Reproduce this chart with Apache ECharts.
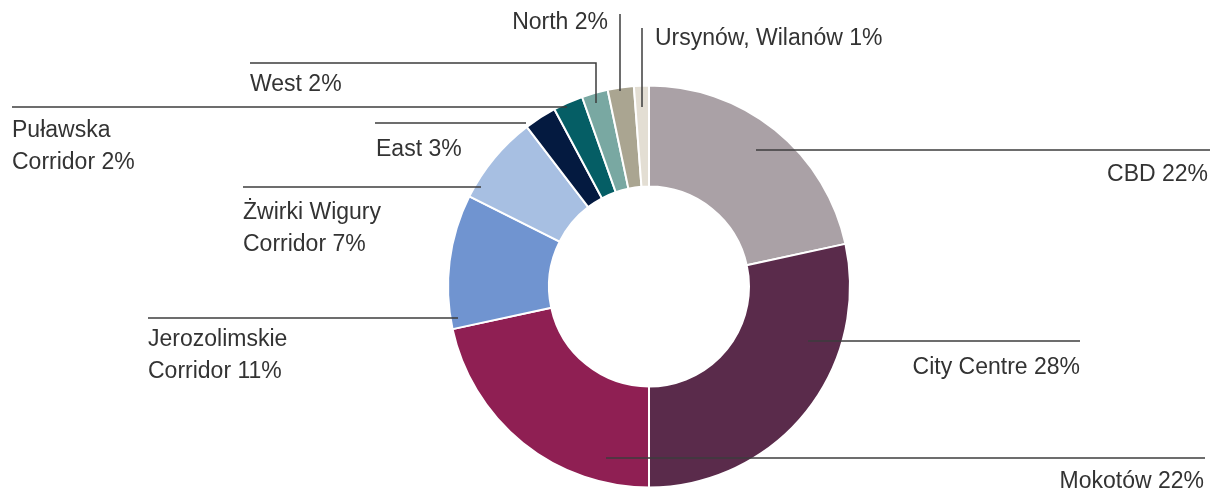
<!DOCTYPE html>
<html>
<head>
<meta charset="utf-8">
<script src="https://cdn.jsdelivr.net/npm/echarts@6/dist/echarts.min.js"></script>
<style>
html,body{margin:0;padding:0;background:#fff;}
#chart{width:1211px;height:489px;}
</style>
</head>
<body>
<div id="chart"></div>
<script>
// ---- data ----
const categories = ['CBD', 'City Centre', 'Mokotów', 'Jerozolimskie Corridor', 'Żwirki Wigury Corridor',
  'East', 'Puławska Corridor', 'West', 'North', 'Ursynów, Wilanów'];
const shares = [21.6, 28.4, 21.6, 10.8, 7.2, 2.6, 2.4, 2.1, 2.1, 1.2];
const labelPercents = [22, 28, 22, 11, 7, 3, 2, 2, 2, 1];

// ---- styles ----
const colors = ['#aaa1a6', '#5a2b4b', '#8f1f53', '#7094d0', '#a7bfe2',
  '#041a40', '#055e65', '#79a8a2', '#aaa591', '#e3ded3'];

// label annotation layout (pixels): leader line points and text anchor
const labelLayouts = [
  { pts: [[756,150],[980,150],[1210,150]], x: 1208, y: 159, align: 'right' },
  { pts: [[808,341],[950,341],[1080,341]], x: 1080, y: 352, align: 'right' },
  { pts: [[606,458],[900,458],[1205,458]], x: 1204, y: 466, align: 'right' },
  { pts: [[458,318],[300,318],[148,318]], x: 148, y: 324, align: 'left' },
  { pts: [[481,187],[360,187],[243,187]], x: 243, y: 197, align: 'left' },
  { pts: [[526,123],[450,123],[375,123]], x: 376, y: 134, align: 'left' },
  { pts: [[567,107],[300,107],[12,107]], x: 12, y: 115, align: 'left' },
  { pts: [[596,103],[596,63],[250,63]], x: 250, y: 69, align: 'left' },
  { pts: [[620,91],[620,50],[620,14]], x: 608, y: 7, align: 'right' },
  { pts: [[642,107],[642,60],[642,28]], x: 655, y: 23, align: 'left' }
];

const chart = echarts.init(document.getElementById('chart'), null, { renderer: 'canvas' });

const seriesData = categories.map((name, i) => ({
  name: name,
  value: shares[i],
  itemStyle: { color: colors[i] }
}));

const pieBase = {
  type: 'pie',
  center: [649, 286.5],
  radius: [100, 201],
  startAngle: 90,
  clockwise: true,
  avoidLabelOverlap: false,
  emphasis: { disabled: true },
  silent: true
};

chart.setOption({
  animation: false,
  backgroundColor: '#ffffff',
  series: [
    Object.assign({}, pieBase, {
      z: 2,
      itemStyle: { borderColor: '#ffffff', borderWidth: 2 },
      data: seriesData,
      label: { show: false },
      labelLine: { show: false }
    }),
    // overlay series: same slices, transparent, carries labels and leader lines above the ring
    Object.assign({}, pieBase, {
      z: 5,
      itemStyle: { color: 'rgba(0,0,0,0)', borderWidth: 0 },
      data: categories.map((name, i) => ({ name: name, value: shares[i] })),
      label: {
        show: true,
        position: 'outside',
        overflow: 'none',
        fontFamily: 'Liberation Sans, Arial, sans-serif',
        fontSize: 23,
        lineHeight: 32,
        color: '#333333',
        formatter: function (p) {
          return p.name.replace(' Corridor', '\nCorridor') + ' ' + labelPercents[p.dataIndex] + '%';
        }
      },
      labelLine: {
        show: true,
        smooth: false,
        length: 10,
        length2: 10,
        lineStyle: { color: '#3c3c3c', width: 1.5 }
      },
      labelLayout: function (params) {
        const l = labelLayouts[params.dataIndex];
        return {
          x: l.x,
          y: l.y,
          align: l.align,
          verticalAlign: 'top',
          labelLinePoints: l.pts.map(p => p.slice())
        };
      }
    })
  ]
});
</script>
</body>
</html>
